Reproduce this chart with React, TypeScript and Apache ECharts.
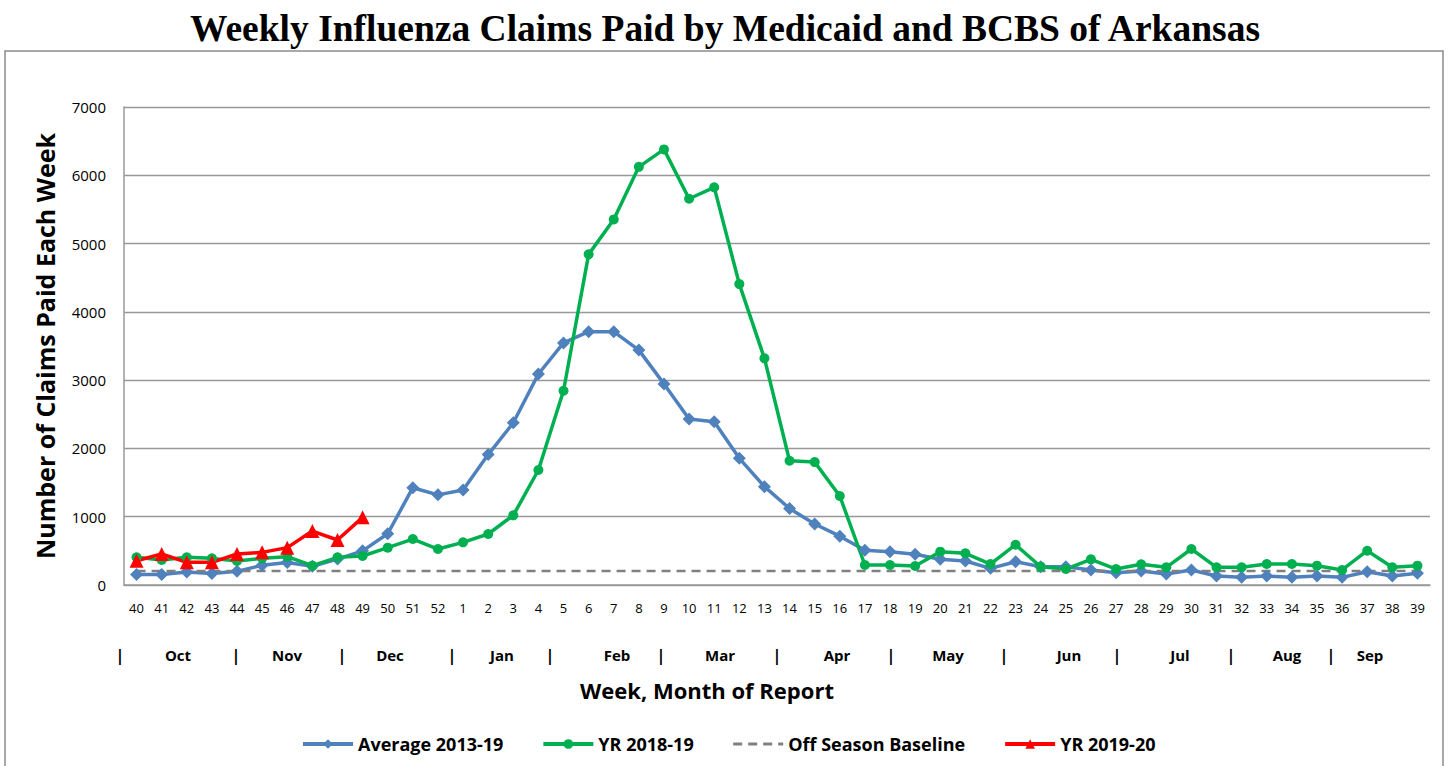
import React, { useEffect, useRef } from "react";
import * as echarts from "echarts";

const weeks: string[] = [
  "40","41","42","43","44","45","46","47","48","49","50","51","52",
  "1","2","3","4","5","6","7","8","9","10","11","12","13","14","15","16","17","18","19","20",
  "21","22","23","24","25","26","27","28","29","30","31","32","33","34","35","36","37","38","39",
];

const average2013_19: number[] = [
  155,155,190,170,200,290,330,275,380,500,750,1425,1320,
  1390,1910,2375,3090,3545,3710,3710,3440,2945,2430,
  2390,1855,1440,1120,893,715,510,488,449,376,
  351,244,341,268,268,220,180,205,161,220,
  132,112,132,112,132,112,195,132,171,
];

const yr2018_19: number[] = [
  405,366,405,390,351,390,415,283,405,425,547,673,527,
  625,747,1020,1684,2845,4842,5354,6124,6379,5656,
  5823,4407,3319,1820,1800,1303,293,293,278,488,
  464,307,590,268,234,376,234,303,259,527,
  259,259,307,307,283,220,502,259,283,
];

const offSeasonBaseline: number[] = weeks.map(() => 205);

const yr2019_20: (number | null)[] = [
  356,454,332,332,454,478,547,790,659,991,
  ...weeks.slice(10).map(() => null),
];

const months: string[] = ["Oct","Nov","Dec","Jan","Feb","Mar","Apr","May","Jun","Jul","Aug","Sep"];
const monthX: number[] = [178,287,390,502,617,720,837,948,1069,1180,1287,1370];
const sepX: number[] = [120,236,342,452,550,661,777,891,1004,1117,1231,1331];

const FONT = "'Open Sans', sans-serif";

export default function App() {
  const ref = useRef<HTMLDivElement>(null);
  useEffect(() => {
    if (!ref.current) return;
    const chart = echarts.init(ref.current, null, { renderer: "svg" });
    const graphics: any[] = [
      {
        type: "rect",
        shape: { x: 5, y: 51, width: 1438, height: 730 },
        style: { fill: "none", stroke: "#8c8c8c", lineWidth: 1.5 },
        silent: true,
      },
      {
        type: "text",
        x: 707,
        y: 690,
        style: {
          text: "Week, Month of Report",
          font: `bold 22px ${FONT}`,
          fill: "#000",
          textAlign: "center",
          textVerticalAlign: "middle",
        },
      },
    ];
    months.forEach((m, i) => {
      graphics.push({
        type: "text",
        x: monthX[i],
        y: 655,
        style: { text: m, font: `bold 15px ${FONT}`, fill: "#000", textAlign: "center", textVerticalAlign: "middle" },
      });
    });
    sepX.forEach((x) => {
      graphics.push({
        type: "text",
        x,
        y: 655,
        style: { text: "|", font: `bold 16px ${FONT}`, fill: "#000", textAlign: "center", textVerticalAlign: "middle" },
      });
    });

    chart.setOption({
      animation: false,
      backgroundColor: "#fff",
      title: {
        text: "Weekly Influenza Claims Paid by Medicaid and BCBS of Arkansas",
        left: "center",
        top: 4,
        textStyle: {
          fontFamily: "'Liberation Serif', 'Times New Roman', serif",
          fontWeight: "bold",
          fontSize: 37.5,
          color: "#000",
        },
      },
      grid: { left: 124, right: 20, top: 107, bottom: 181, containLabel: false },
      legend: {
        top: 730,
        left: 296,
        itemWidth: 50,
        itemHeight: 12,
        itemGap: 38,
        textStyle: { fontFamily: FONT, fontWeight: "bold", fontSize: 18, color: "#000" },
        data: [
          { name: "Average 2013-19", lineStyle: { width: 4 } },
          { name: "YR 2018-19", lineStyle: { width: 4 } },
          { name: "Off Season Baseline", itemStyle: { opacity: 0 }, lineStyle: { width: 3 } },
          { name: "YR 2019-20", lineStyle: { width: 4 } },
        ],
      },
      graphic: graphics,
      xAxis: {
        type: "category",
        data: weeks,
        boundaryGap: true,
        axisLine: { show: true, lineStyle: { color: "#999", width: 1.5 } },
        axisTick: { show: false },
        axisLabel: { interval: 0, margin: 16, fontFamily: FONT, fontSize: 13, color: "#000" },
      },
      yAxis: {
        type: "value",
        min: 0,
        max: 7000,
        interval: 1000,
        name: "Number of Claims Paid Each Week",
        nameLocation: "middle",
        nameGap: 67,
        nameRotate: 90,
        nameTextStyle: { fontFamily: FONT, fontWeight: "bold", fontSize: 25, color: "#000" },
        axisLine: { show: true, lineStyle: { color: "#999", width: 1.5 } },
        axisTick: { show: false },
        axisLabel: { margin: 18, fontFamily: FONT, fontSize: 15, color: "#000", formatter: (v: number) => String(v) },
        splitLine: { show: true, lineStyle: { color: "#999", width: 1.3 } },
      },
      series: [
        {
          name: "Average 2013-19",
          type: "line",
          data: average2013_19,
          symbol: "diamond",
          symbolSize: 13,
          lineStyle: { color: "#4F81BD", width: 3.5 },
          itemStyle: { color: "#4F81BD" },
        },
        {
          name: "YR 2018-19",
          type: "line",
          data: yr2018_19,
          symbol: "circle",
          symbolSize: 10,
          lineStyle: { color: "#00B050", width: 3.5 },
          itemStyle: { color: "#00B050" },
        },
        {
          name: "Off Season Baseline",
          type: "line",
          data: offSeasonBaseline,
          symbol: "none",
          lineStyle: { color: "#808080", width: 2.5, type: [9, 6] },
          itemStyle: { color: "#808080" },
        },
        {
          name: "YR 2019-20",
          type: "line",
          data: yr2019_20,
          symbol: "triangle",
          symbolSize: 14,
          lineStyle: { color: "#FF0000", width: 3.5 },
          itemStyle: { color: "#FF0000" },
        },
      ],
    });
    return () => chart.dispose();
  }, []);
  return (
    <div
      ref={ref}
      style={{ position: "fixed", left: 0, top: 0, width: 1450, height: 766 }}
    />
  );
}
